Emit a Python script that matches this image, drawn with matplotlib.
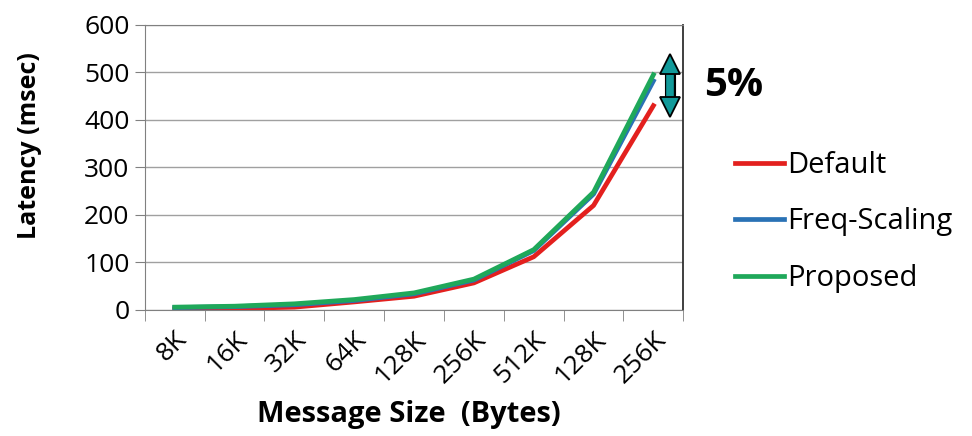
import matplotlib.pyplot as plt

sizes = ['8K', '16K', '32K', '64K', '128K', '256K', '512K', '128K', '256K']
default = [2, 3, 6, 17, 29, 57, 112, 220, 430]
freq_scaling = [5, 7, 11, 20, 34, 63, 125, 244, 482]
proposed = [6, 8, 13, 22, 36, 65, 127, 248, 495]

# range of the double arrow (latency values)
arrow_lo, arrow_hi = 415, 530

plt.rcParams['font.family'] = ['Open Sans', 'DejaVu Sans']

fig = plt.figure(figsize=(9.72, 4.36), dpi=100)
ax = fig.add_axes([0.149, 0.289, 0.554, 0.654])

x = list(range(len(sizes)))
ax.plot(x, default, color='#e3201e', linewidth=3.4, label='Default')
ax.plot(x, freq_scaling, color='#2a72b5', linewidth=3.4, label='Freq-Scaling')
ax.plot(x, proposed, color='#1fa85a', linewidth=3.4, label='Proposed')

ax.set_xlim(-0.5, len(sizes) - 0.5)
ax.set_ylim(0, 600)
ax.set_yticks(range(0, 601, 100))
ax.tick_params(axis='y', labelsize=19, length=7, color='#808080', pad=4)
ax.set_xticks(x)
ax.set_xticklabels(sizes, rotation=45, ha='right', rotation_mode='anchor', fontsize=19)
ax.tick_params(axis='x', length=0, pad=12)
ax.set_xticks([i - 0.5 for i in range(len(sizes) + 1)], minor=True)
ax.tick_params(axis='x', which='minor', length=8, color='#808080')

ax.grid(axis='y', color='#a0a0a0', linewidth=1)
ax.set_axisbelow(True)
for s in ['left', 'bottom', 'top']:
    ax.spines[s].set_color('#808080')
ax.spines['right'].set_color('#303030')
ax.spines['right'].set_linewidth(1.3)

ax.set_ylabel('Latency (msec)', fontsize=18, fontweight='bold', va='center')
ax.yaxis.set_label_coords(-0.215, 0.575)
ax.set_xlabel('Message Size  (Bytes)', fontsize=21, fontweight='bold', va='center')
ax.xaxis.set_label_coords(0.49, -0.368)

# double arrow: black outline, teal fill
ax_x = 8.28
ax.plot([ax_x, ax_x], [arrow_lo + 18, arrow_hi - 18], color='black', linewidth=8,
        solid_capstyle='butt', clip_on=False, zorder=5)
ax.plot([ax_x, ax_x], [arrow_lo + 16, arrow_hi - 16], color='#129a9a', linewidth=5.5,
        solid_capstyle='butt', clip_on=False, zorder=6)
ax.plot([ax_x], [arrow_hi - 12], marker='^', markersize=14, markerfacecolor='#129a9a',
        markeredgecolor='black', markeredgewidth=1.3, clip_on=False, zorder=7)
ax.plot([ax_x], [arrow_lo + 12], marker='v', markersize=14, markerfacecolor='#129a9a',
        markeredgecolor='black', markeredgewidth=1.3, clip_on=False, zorder=7)

fig.text(0.724, 0.805, '5%', fontsize=29, fontweight='bold', va='center', ha='left')

ax.legend(loc='center left', bbox_to_anchor=(0.756, 0.491), bbox_transform=fig.transFigure,
          frameon=False, fontsize=21, borderpad=0, borderaxespad=0,
          handlelength=1.7, handletextpad=0.1, labelspacing=0.95)

fig.savefig('out.png', dpi=100)
